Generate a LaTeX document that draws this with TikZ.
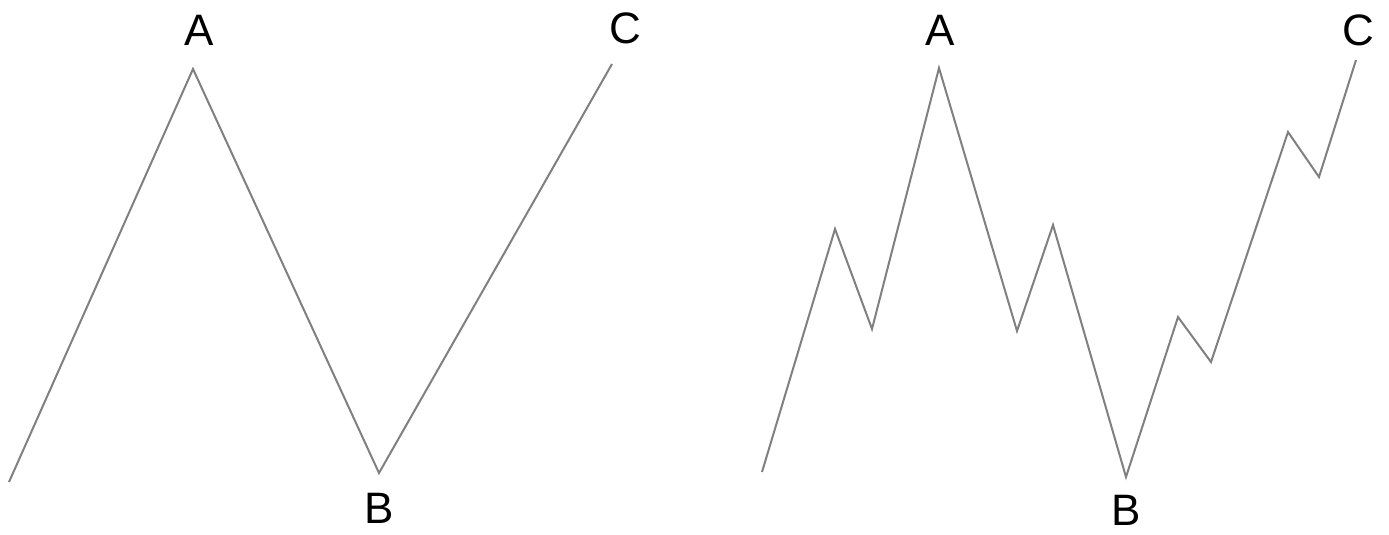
\documentclass[tikz,border=0pt]{standalone}
\usepackage{fontspec}
\setmainfont{Liberation Sans}
\begin{document}
\begin{tikzpicture}[x=1pt,y=-1pt,
  wave/.style={draw=black!50,line width=2pt,line join=miter},
  lbl/.style={inner sep=0pt,font=\fontsize{44}{44}\selectfont}]
\useasboundingbox[fill=white] (0,0) rectangle (1389,535);
% left chart
\coordinate (l0) at (9,482);
\coordinate (lA) at (193,69);
\coordinate (lB) at (379,473);
\coordinate (lC) at (612,64);
\draw[wave] (l0) -- (lA) -- (lB) -- (lC);
\node[lbl] (tlA) at (199,30) {A};
\node[lbl] (tlB) at (379,508) {B};
\node[lbl] (tlC) at (625,28) {C};
% right chart
\coordinate (r0) at (762,472);
\coordinate (r1) at (835,229);
\coordinate (r2) at (872,329);
\coordinate (rA) at (939,68);
\coordinate (r4) at (1017,331);
\coordinate (r5) at (1053,225);
\coordinate (rB) at (1126,477);
\coordinate (r7) at (1178,317);
\coordinate (r8) at (1211,362);
\coordinate (r9) at (1288,132);
\coordinate (r10) at (1319,177);
\coordinate (rC) at (1356,60);
\draw[wave] (r0) -- (r1) -- (r2) -- (rA) -- (r4) -- (r5) -- (rB) -- (r7) -- (r8) -- (r9) -- (r10) -- (rC);
\node[lbl] (trA) at (940,30) {A};
\node[lbl] (trB) at (1126,510) {B};
\node[lbl] (trC) at (1358,30) {C};
\end{tikzpicture}
\end{document}
